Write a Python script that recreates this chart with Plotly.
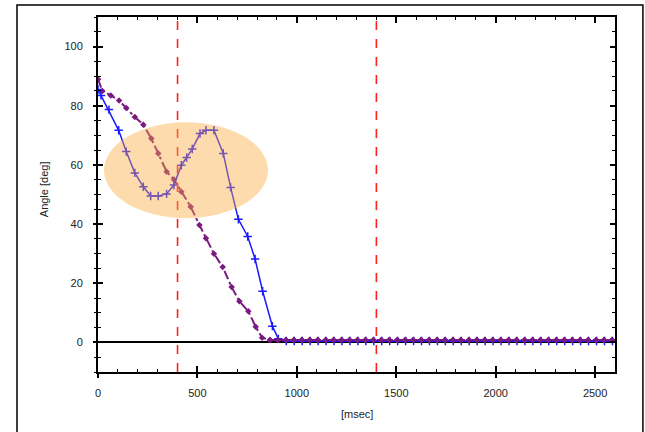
import plotly.graph_objects as go

# ---- data ----
blue_t_head = [0, 15, 55, 104, 142, 185, 228, 265, 303, 345, 382, 419, 446, 474, 513, 543,
               583, 630, 667, 706, 753, 790, 828, 877, 907]
blue_y_head = [85.5, 83.5, 78.7, 71.7, 64.5, 57.3, 52.6, 49.5, 49.5, 50.2, 53.2, 59.9, 62.5,
               65.4, 70.6, 71.7, 71.7, 63.9, 52.4, 41.6, 35.8, 28.2, 17.3, 5.5, 1.2]
blue_t_flat = [947, 987, 1027, 1067, 1107, 1147, 1187, 1227, 1267, 1307, 1347, 1387, 1427,
               1467, 1507, 1547, 1587, 1627, 1667, 1707, 1747, 1787, 1827, 1867, 1907, 1947,
               1987, 2027, 2067, 2107, 2147, 2187, 2227, 2267, 2307, 2347, 2387, 2427, 2467,
               2507, 2547, 2587]
blue_y_flat = [0.5, 0.5, 0.5, 0.5, 0.5, 0.5, 0.5, 0.5, 0.5, 0.5, 0.5, 0.5, 0.5, 0.5, 0.5,
               0.5, 0.5, 0.5, 0.5, 0.5, 0.5, 0.5, 0.5, 0.5, 0.5, 0.5, 0.5, 0.5, 0.5, 0.5,
               0.5, 0.5, 0.5, 0.5, 0.5, 0.5, 0.5, 0.5, 0.5, 0.5, 0.5, 0.5]

purple_t_head = [0, 22, 64, 106, 142, 185, 228, 268, 303, 345, 382, 419, 466, 510, 543, 583,
                 627, 672, 711, 756, 793, 825]
purple_y_head = [89.0, 85.0, 83.5, 81.8, 79.2, 76.2, 73.6, 68.9, 63.9, 57.7, 55.1, 50.9, 45.9,
                 39.7, 35.2, 30.0, 25.5, 18.7, 13.9, 10.5, 5.3, 1.6]
purple_t_flat = [865, 905, 945, 985, 1025, 1065, 1105, 1145, 1185, 1225, 1265, 1305, 1345,
                 1385, 1425, 1465, 1505, 1545, 1585, 1625, 1665, 1705, 1745, 1785, 1825, 1865,
                 1905, 1945, 1985, 2025, 2065, 2105, 2145, 2185, 2225, 2265, 2305, 2345, 2385,
                 2425, 2465, 2505, 2545, 2585]
purple_y_flat = [0.8, 0.8, 0.8, 0.8, 0.8, 0.8, 0.8, 0.8, 0.8, 0.8, 0.8, 0.8, 0.8, 0.8, 0.8,
                 0.8, 0.8, 0.8, 0.8, 0.8, 0.8, 0.8, 0.8, 0.8, 0.8, 0.8, 0.8, 0.8, 0.8, 0.8,
                 0.8, 0.8, 0.8, 0.8, 0.8, 0.8, 0.8, 0.8, 0.8, 0.8, 0.8, 0.8, 0.8, 0.8]

vlines = [400, 1400]
x_ticks = [0, 500, 1000, 1500, 2000, 2500]
y_ticks = [0, 20, 40, 60, 80, 100]
x_range = [0, 2600]
y_range = [-10, 110]

FONT = "Liberation Sans, Arial, sans-serif"

fig = go.Figure()

fig.add_trace(go.Scatter(
    x=purple_t_head + purple_t_flat, y=purple_y_head + purple_y_flat,
    mode="lines+markers",
    line=dict(color="#7a1a80", width=2, dash="dashdot"),
    marker=dict(symbol="diamond", size=5, color="#7a1a80"),
    showlegend=False, hoverinfo="skip",
))
fig.add_trace(go.Scatter(
    x=blue_t_head + blue_t_flat, y=blue_y_head + blue_y_flat,
    mode="lines+markers",
    line=dict(color="#1a1aff", width=1.5),
    marker=dict(symbol="cross-thin", size=6, line=dict(color="#1a1aff", width=1.5)),
    showlegend=False, hoverinfo="skip",
))
# purple flat part drawn on top (it covers the blue flat part in the reference)
fig.add_trace(go.Scatter(
    x=purple_t_flat, y=purple_y_flat,
    mode="lines+markers",
    line=dict(color="#7a1a80", width=2, dash="dashdot"),
    marker=dict(symbol="diamond", size=5, color="#7a1a80"),
    showlegend=False, hoverinfo="skip",
))
# invisible helper trace so the overlay axes (crossing ticks + labels) get drawn
fig.add_trace(go.Scatter(
    x=x_range, y=y_range, xaxis="x2", yaxis="y2", mode="markers",
    marker=dict(opacity=0), showlegend=False, hoverinfo="skip",
))

shapes = []
# outer frame
shapes.append(dict(type="rect", xref="paper", yref="paper",
                   x0=-0.1567, x1=1.054, y0=-0.3, y1=1.0338,
                   line=dict(color="black", width=1.5), fillcolor="rgba(0,0,0,0)",
                   layer="below"))
for v in vlines:
    shapes.append(dict(type="line", xref="x", yref="paper", x0=v, x1=v, y0=0, y1=1,
                       line=dict(color="#ff2020", width=1.6, dash="dash")))
# highlight ellipse
shapes.append(dict(type="circle", xref="x", yref="y", x0=30, x1=855, y0=42, y1=74.4,
                   fillcolor="rgb(250,170,60)", opacity=0.42, line=dict(width=0),
                   layer="above"))

tickfont = dict(family=FONT, size=11, color="#222222")

fig.update_layout(
    width=645, height=432,
    margin=dict(l=98, r=30, t=17, b=60),
    paper_bgcolor="white", plot_bgcolor="white",
    shapes=shapes,
    xaxis=dict(range=x_range, tickvals=x_ticks, ticks="inside", ticklen=6, tickwidth=1.5,
               tickcolor="black", showticklabels=False, showline=True, linecolor="black",
               linewidth=1.5, mirror="ticks", showgrid=False, zeroline=False,
               minor=dict(dtick=100, ticks="inside", ticklen=3, tickwidth=1.2,
                          tickcolor="black", showgrid=False)),
    xaxis2=dict(range=x_range, overlaying="x", side="bottom", anchor="y2",
                tickvals=x_ticks, ticks="outside", ticklen=5, tickwidth=1.5,
                tickcolor="black", showticklabels=True, tickfont=tickfont,
                ticklabelstandoff=6,
                showline=False, showgrid=False, zeroline=False),
    yaxis=dict(range=y_range, tickvals=y_ticks, ticks="inside", ticklen=5, tickwidth=1.5,
               tickcolor="black", showticklabels=False, showline=True, linecolor="black",
               linewidth=1.5, mirror="ticks", showgrid=False,
               zeroline=True, zerolinecolor="black", zerolinewidth=1.5,
               minor=dict(dtick=5, ticks="inside", ticklen=3, tickwidth=1.2,
                          tickcolor="black", showgrid=False)),
    yaxis2=dict(range=y_range, overlaying="y", side="left", anchor="x2",
                tickvals=y_ticks, ticks="outside", ticklen=4, tickwidth=1.5,
                tickcolor="black", showticklabels=True, tickfont=tickfont,
                ticklabelstandoff=8,
                showline=False, showgrid=False, zeroline=False,
                minor=dict(dtick=5, ticks="outside", ticklen=3, tickwidth=1.2,
                           tickcolor="black", showgrid=False)),
    annotations=[
        dict(text="Angle [deg]", xref="paper", yref="paper", x=-0.1044, y=0.515,
             xanchor="center", yanchor="middle",
             textangle=-90, showarrow=False, font=dict(family=FONT, size=11, color="#222")),
        dict(text="[msec]", xref="paper", yref="paper", x=0.501, y=-0.118,
             xanchor="center", yanchor="middle",
             showarrow=False, font=dict(family=FONT, size=11, color="#222")),
    ],
)

fig.write_html("out.html")
